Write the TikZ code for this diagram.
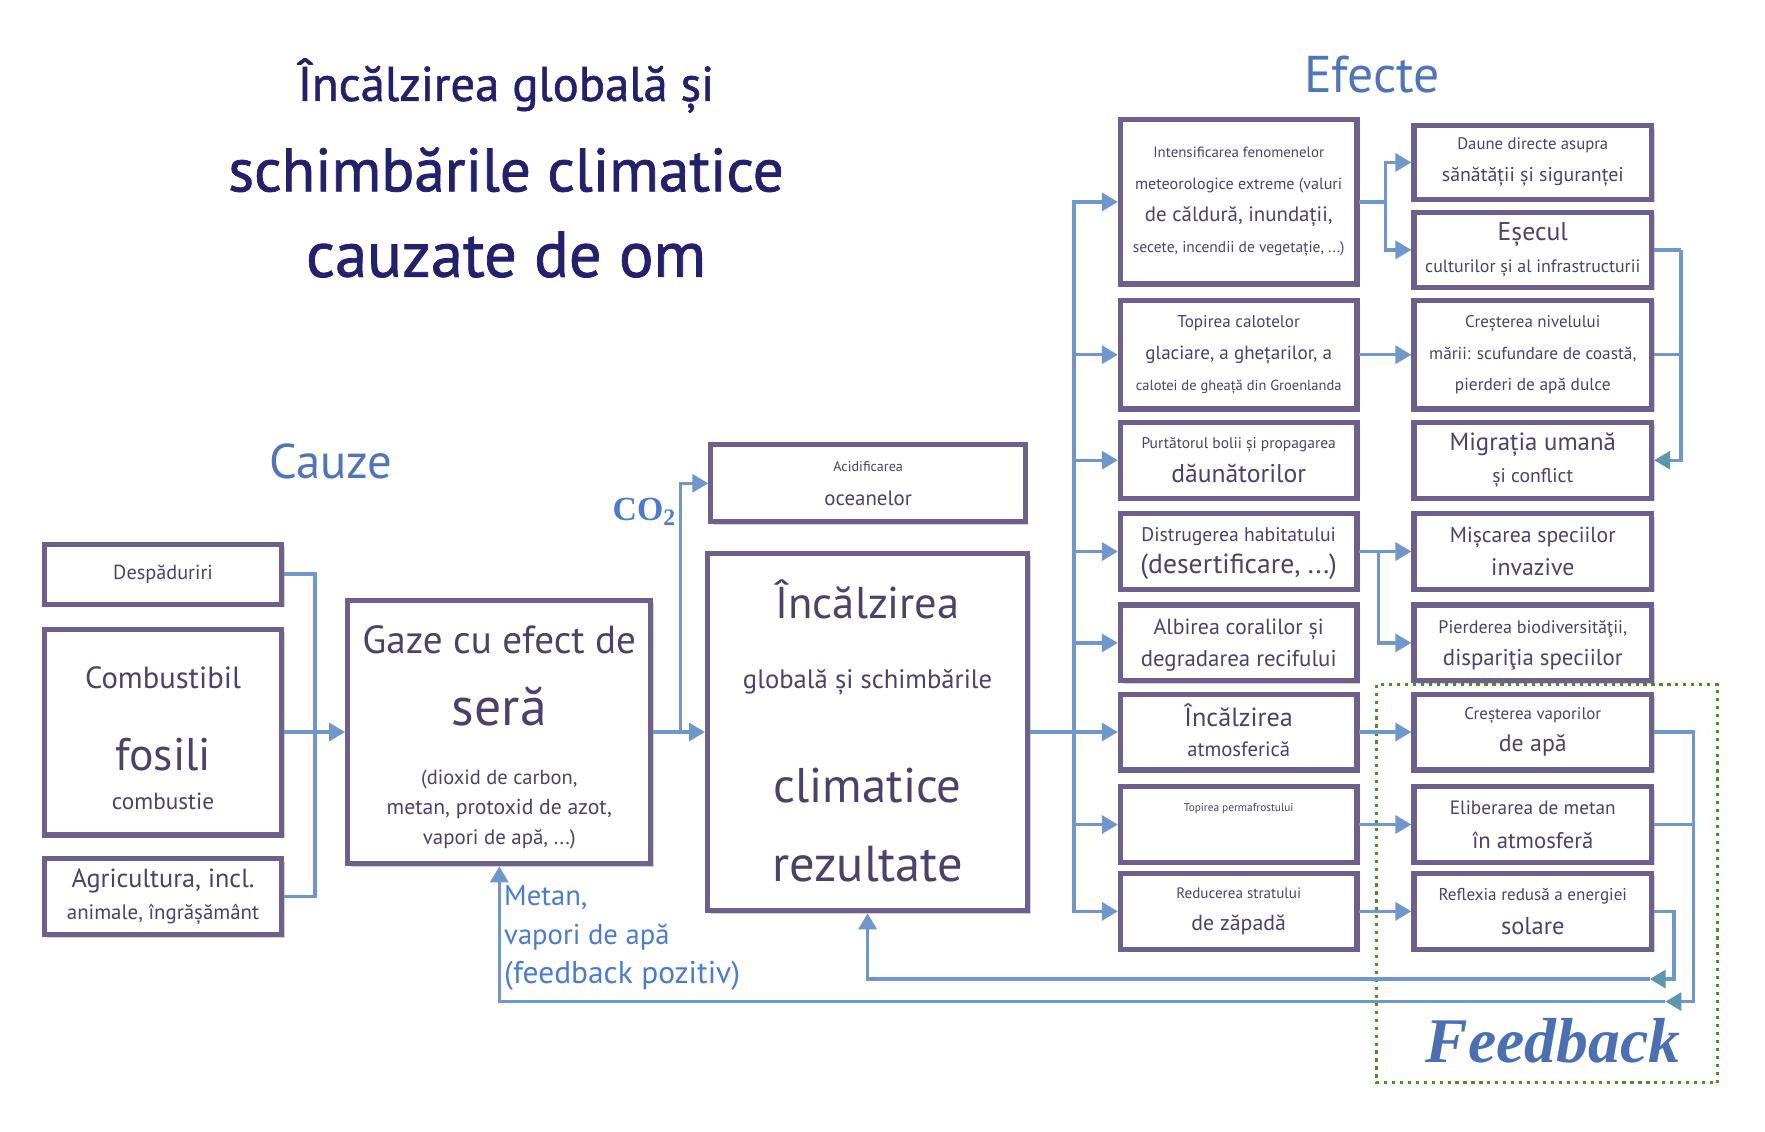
\documentclass[tikz,border=0pt]{standalone}
\usepackage{fontspec}
\setmainfont{PT Sans}
\newfontfamily\titlefont{PT Sans}[FakeBold=1.2]
\newfontfamily\fbfont{Liberation Serif}
\usetikzlibrary{arrows.meta,shadows}
\definecolor{boxline}{HTML}{6E608C}
\definecolor{boxtext}{HTML}{4C416B}
\definecolor{arrowblue}{HTML}{7097CC}
\definecolor{headteal}{HTML}{5E97AC}
\definecolor{titlenavy}{HTML}{23206E}
\definecolor{headblue}{HTML}{4E74BC}
\definecolor{metanblue}{HTML}{4A7BD3}
\definecolor{feedblue}{HTML}{4B6FB5}
\definecolor{dotgreen}{HTML}{4A8F1F}
\newcommand{\fsz}[1]{\fontsize{#1pt}{#1pt}\selectfont}
\newcommand{\dn}[1]{\rule[-#1pt]{0pt}{#1pt}}
\newcommand{\hgt}[1]{\rule{0pt}{#1pt}}

\begin{document}
\begin{tikzpicture}[xscale=0.994, yscale=0.997,
    lsep/.style={font={\fontsize{8pt}{#1}\selectfont\lineskiplimit-100pt}},
    box/.style={draw=boxline, line width=2.6pt, fill=white, text=boxtext, align=center,
        inner sep=0pt, lsep=16pt,
        drop shadow={shadow xshift=1.5pt, shadow yshift=-1.5pt, opacity=0.18, fill=black}},
    boxsize/.style 2 args={minimum width=#1cm, minimum height=#2cm},
    link/.style={draw=arrowblue, line width=1.7pt},
    flow/.style={link, -{Triangle[length=8pt,width=9pt]}},
    back/.style={link, -{Triangle[length=8pt,width=9pt,color=headteal]}}]

    \useasboundingbox (0,0) rectangle (31.39,-20.06);

    % 标题
    \node[text=titlenavy, align=center, lsep=43pt] (title) at (9.00,-2.98)
        {\titlefont\fsz{24.5}Încălzirea globală și\\[2.5pt]\titlefont\fsz{30.8}schimbările climatice\\%
         \titlefont\fsz{32.5}cauzate de om};
    \node[text=headblue, font=\fsz{24.5}] (cauze) at (5.88,-8.18) {Cauze};
    \node[text=headblue, font=\fsz{26}] (efecte) at (24.40,-1.32) {Efecte};

    % 左列: 原因
    \node[box, boxsize={4.20}{1.06}] (desp) at (2.90,-10.18) {\fsz{10.2}Despăduriri};
    \node[box, boxsize={4.20}{3.64}] (fosil) at (2.90,-12.98)
        {\hgt{17.5}\fsz{15.4}Combustibil\\[25pt]\fsz{23}fosili\\[4pt]\fsz{11.7}combustie};
    \node[box, boxsize={4.20}{1.34}] (agri) at (2.90,-15.90)
        {\fsz{13.2}Agricultura, incl.\\\fsz{10.5}animale, îngrășământ};

    % 中间: 温室气体, 海洋, 变暖
    \node[box, boxsize={5.36}{4.66}] (gaze) at (8.88,-12.98)
        {\hgt{19.4}\fsz{19.7}Gaze cu efect de\\[19.8pt]\fsz{27}seră\\[13.9pt]\fsz{10.3}(dioxid de carbon,\\[-1pt]%
         \fsz{10.9}metan, protoxid de azot,\\[-1pt]\fsz{10.5}vapori de apă, ...)};
    \node[box, boxsize={5.56}{1.36}, lsep=17pt] (acid) at (15.44,-8.57)
        {\fsz{7.1}Acidificarea\\\fsz{10.5}oceanelor};
    \node[box, boxsize={5.66}{6.32}] (big) at (15.43,-12.98)
        {\fsz{22.4}Încălzirea\\[19.3pt]\fsz{13.4}globală și schimbările\\[40.9pt]%
         \fsz{24.5}climatice\\[23.8pt]\fsz{25.4}rezultate\dn{1.5}};
    \node[text=metanblue, font=\fbfont\bfseries\fsz{17}] (co2) at (11.46,-9.08) {CO\textsubscript{2}};
    \node[text=metanblue, align=left, anchor=north west, inner sep=0pt, lsep=19.6pt] (metan) at (8.96,-15.70)
        {\fsz{14.4}Metan,\\\fsz{14.4}vapori de apă\\\fsz{15.8}(feedback pozitiv)};

    % 第一列效果
    \node[box, boxsize={4.18}{2.90}] (m1) at (22.03,-3.58)
        {\fsz{7.5}Intensificarea fenomenelor\\\fsz{8.1}meteorologice extreme (valuri\\%
         \fsz{10.5}de căldură, inundații,\\\fsz{7.8}secete, incendii de vegetație, ...)};
    \node[box, boxsize={4.18}{1.92}] (m2) at (22.03,-6.29)
        {\fsz{8.6}Topirea calotelor\\\fsz{9.6}glaciare, a ghețarilor, a\\\fsz{7.3}calotei de gheață din Groenlanda};
    \node[box, boxsize={4.18}{1.34}, lsep=17pt] (m3) at (22.03,-8.16)
        {\fsz{7.8}Purtătorul bolii și propagarea\\\fsz{12.9}dăunătorilor};
    \node[box, boxsize={4.18}{1.34}] (m4) at (22.03,-9.78)
        {\hgt{9}\fsz{9.9}Distrugerea habitatului\\\fsz{13.9}(desertificare, ...)};
    \node[box, boxsize={4.18}{1.34}] (m5) at (22.03,-11.40)
        {\hgt{10}\fsz{11}Albirea coralilor și\\\fsz{11.5}degradarea recifului};
    \node[box, boxsize={4.18}{1.34}, lsep=14.8pt] (m6) at (22.03,-12.98)
        {\fsz{13.2}Încălzirea\\\fsz{10.4}atmosferică\dn{2}};
    \node[box, boxsize={4.18}{1.34}] (m7) at (22.03,-14.62)
        {\fsz{5.7}Topirea permafrostului\\[1pt]\mbox{}};
    \node[box, boxsize={4.18}{1.34}, lsep=16.5pt] (m8) at (22.03,-16.16)
        {\fsz{7.6}Reducerea stratului\\\fsz{11}de zăpadă};

    % 第二列效果
    \node[box, boxsize={4.20}{1.30}] (r1) at (27.26,-2.88)
        {\fsz{8.4}Daune directe asupra\\\fsz{10}sănătății și siguranței};
    \node[box, boxsize={4.20}{1.32}] (r2) at (27.26,-4.43)
        {\fsz{12.9}Eșecul\\\fsz{9}culturilor și al infrastructurii};
    \node[box, boxsize={4.20}{1.92}] (r3) at (27.26,-6.29)
        {\fsz{8.5}Creșterea nivelului\\\fsz{8.7}mării: scufundare de coastă,\\\fsz{8.7}pierderi de apă dulce};
    \node[box, boxsize={4.20}{1.34}] (r4) at (27.26,-8.16)
        {\fsz{12.5}Migrația umană\\\fsz{9.9}și conflict};
    \node[box, boxsize={4.20}{1.34}, lsep=16.5pt] (r5) at (27.26,-9.78)
        {\fsz{10.9}Mișcarea speciilor\\\fsz{12}invazive};
    \node[box, boxsize={4.20}{1.34}] (r6) at (27.26,-11.40)
        {\hgt{9}\fsz{9.1}Pierderea biodiversităţii,\\\fsz{11.5}dispariţia speciilor};
    \node[box, boxsize={4.20}{1.34}] (r7) at (27.26,-12.98)
        {\fsz{8.5}Creșterea vaporilor\\\fsz{12}de apă};
    \node[box, boxsize={4.20}{1.34}, lsep=17pt] (r8) at (27.26,-14.62)
        {\fsz{9.7}Eliberarea de metan\\\fsz{11.4}în atmosferă};
    \node[box, boxsize={4.20}{1.34}, lsep=17.5pt] (r9) at (27.26,-16.16)
        {\fsz{8.6}Reflexia redusă a energiei\\\fsz{12.3}solare};

    % 反馈框
    \draw[dotgreen, line width=1.5pt, dash pattern=on 1.6pt off 2.4pt] (24.48,-12.14) rectangle (30.55,-19.20);
    \node[text=feedblue, font=\fbfont\bfseries\itshape\fsz{32}] (feedback) at (27.62,-18.46) {Feedback};

    % 分叉点
    \coordinate (cj) at (5.60,-12.98);
    \coordinate (co) at (12.10,-12.98);
    \coordinate (tr) at (19.10,-12.98);
    \coordinate (b1) at (24.64,-3.58);
    \coordinate (b4) at (24.52,-9.78);
    \coordinate (b5) at (29.90,-4.43);
    \coordinate (c7) at (30.12,-17.76);
    \coordinate (h7) at (29.62,-17.76);
    \coordinate (c9) at (29.77,-17.36);
    \coordinate (h9) at (29.34,-17.36);

    % 原因 -> 温室气体 -> 变暖
    \draw[link] (desp.east) -| (cj);
    \draw[link] (agri.east) -| (cj);
    \draw[flow] (fosil.east) -- (gaze.west);
    \draw[flow] (gaze.east) -- (big.west);
    \draw[flow] (co) |- (acid.west);

    % 变暖 -> 各个效果
    \draw[link] (big.east) -- (tr);
    \draw[flow] (tr) |- (m1.west);
    \draw[flow] (tr) |- (m2.west);
    \draw[flow] (tr) |- (m3.west);
    \draw[flow] (tr) |- (m4.west);
    \draw[flow] (tr) |- (m5.west);
    \draw[flow] (tr) -- (m6.west);
    \draw[flow] (tr) |- (m7.west);
    \draw[flow] (tr) |- (m8.west);

    % 效果 -> 后果
    \draw[link] (m1.east) -- (b1);
    \draw[flow] (b1) |- (r1.west);
    \draw[flow] (b1) |- (r2.west);
    \draw[flow] (m2.east) -- (r3.west);
    \draw[flow] (m4.east) -- (r5.west);
    \draw[flow] (b4) |- (r6.west);
    \draw[flow] (m6.east) -- (r7.west);
    \draw[flow] (m7.east) -- (r8.west);
    \draw[flow] (m8.east) -- (r9.west);
    \draw[link] (r2.east) -- (b5);
    \draw[link] (r3.east) -| (b5);
    \draw[back] (b5) |- (r4.east);

    % 正反馈回路
    \draw[link] (r8.east) -| (c7);
    \draw[back] (r7.east) -| (c7) -- (h7);
    \draw[flow] (h7) -| (gaze.south);
    \draw[back] (r9.east) -| (c9) -- (h9);
    \draw[flow] (h9) -| (big.south);

\end{tikzpicture}
\end{document}
